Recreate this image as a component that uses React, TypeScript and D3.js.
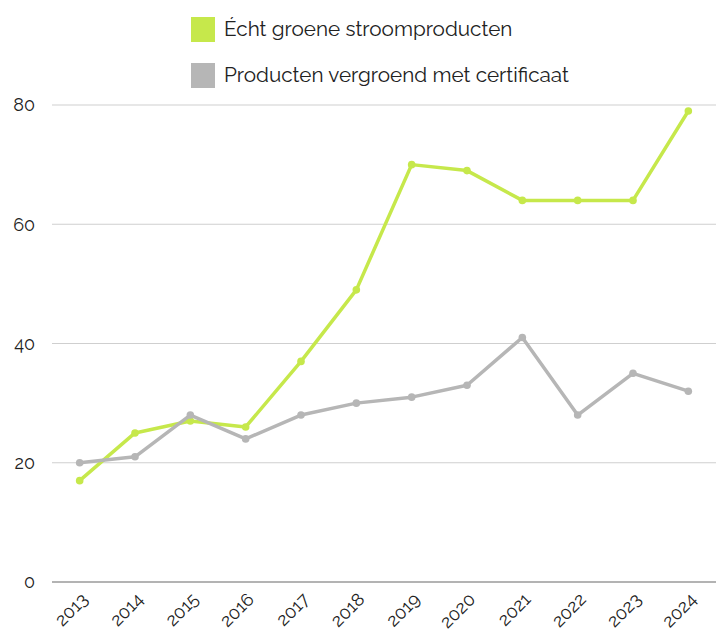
import React, { useEffect, useRef } from 'react';
import * as d3 from 'd3';

const years = ['2013', '2014', '2015', '2016', '2017', '2018', '2019', '2020', '2021', '2022', '2023', '2024'];
const echtGroen = [17, 25, 27, 26, 37, 49, 70, 69, 64, 64, 64, 79];
const vergroend = [20, 21, 28, 24, 28, 30, 31, 33, 41, 28, 35, 32];
const yTicks = [0, 20, 40, 60, 80];

const series = [
    { label: 'Écht groene stroomproducten', values: echtGroen, color: '#c6e84b' },
    { label: 'Producten vergroend met certificaat', values: vergroend, color: '#b6b6b6' }
];

export default function App() {
    const ref = useRef<SVGSVGElement>(null);

    useEffect(() => {
        if (!ref.current) return;
        const svg = d3.select(ref.current);
        svg.selectAll('*').remove();

        const width = 716, height = 635;
        const left = 52, right = 716, top = 105, bottom = 582;
        const font = 'Raleway, Lato, "Open Sans", sans-serif';

        const x = d3.scaleBand().domain(years).range([left, right]);
        const y = d3.scaleLinear().domain([0, 80]).range([bottom, top]);
        const cx = (d: string) => (x(d) as number) + x.bandwidth() / 2;

        // gridlines
        svg.append('g').selectAll('line')
            .data(yTicks)
            .enter().append('line')
            .attr('x1', left).attr('x2', right)
            .attr('y1', d => y(d)).attr('y2', d => y(d))
            .attr('stroke', d => d === 0 ? '#9a9a9a' : '#cfcfcf')
            .attr('stroke-width', d => d === 0 ? 1.5 : 1);

        svg.append('g').selectAll('text')
            .data(yTicks)
            .enter().append('text')
            .attr('x', 35).attr('y', d => y(d))
            .attr('dy', '0.35em')
            .attr('text-anchor', 'end')
            .style('font-family', font).style('font-size', '18px').style('fill', '#222')
            .text(d => d);

        // x labels, rotated
        svg.append('g').selectAll('text')
            .data(years)
            .enter().append('text')
            .attr('transform', d => `translate(${cx(d) + 5},${bottom + 14}) rotate(-45)`)
            .attr('text-anchor', 'end')
            .attr('dy', '0.35em')
            .style('font-family', font).style('font-size', '18px').style('fill', '#222')
            .text(d => d);

        const line = d3.line<number>()
            .x((_, i) => cx(years[i]))
            .y(d => y(d));

        series.forEach(s => {
            svg.append('path')
                .datum(s.values)
                .attr('fill', 'none')
                .attr('stroke', s.color)
                .attr('stroke-width', 3.5)
                .attr('stroke-linejoin', 'round')
                .attr('d', line);
            svg.append('g').selectAll('circle')
                .data(s.values)
                .enter().append('circle')
                .attr('cx', (_, i) => cx(years[i]))
                .attr('cy', d => y(d))
                .attr('r', 3.8)
                .attr('fill', s.color);
        });

        // legend
        const legend = svg.append('g').selectAll('g')
            .data(series)
            .enter().append('g')
            .attr('transform', (_, i) => `translate(191,${17 + i * 46})`);
        legend.append('rect').attr('width', 24).attr('height', 25).attr('fill', d => d.color);
        legend.append('text')
            .attr('x', 33).attr('y', 12).attr('dy', '0.35em')
            .style('font-family', font).style('font-size', '20.7px').style('fill', '#222')
            .text(d => d.label);

        svg.attr('width', width).attr('height', height);
    }, []);

    return (
        <div style={{ position: 'absolute', left: 0, top: 0 }}>
            <svg ref={ref} width={716} height={635} style={{ display: 'block', background: '#fff' }} />
        </div>
    );
}
